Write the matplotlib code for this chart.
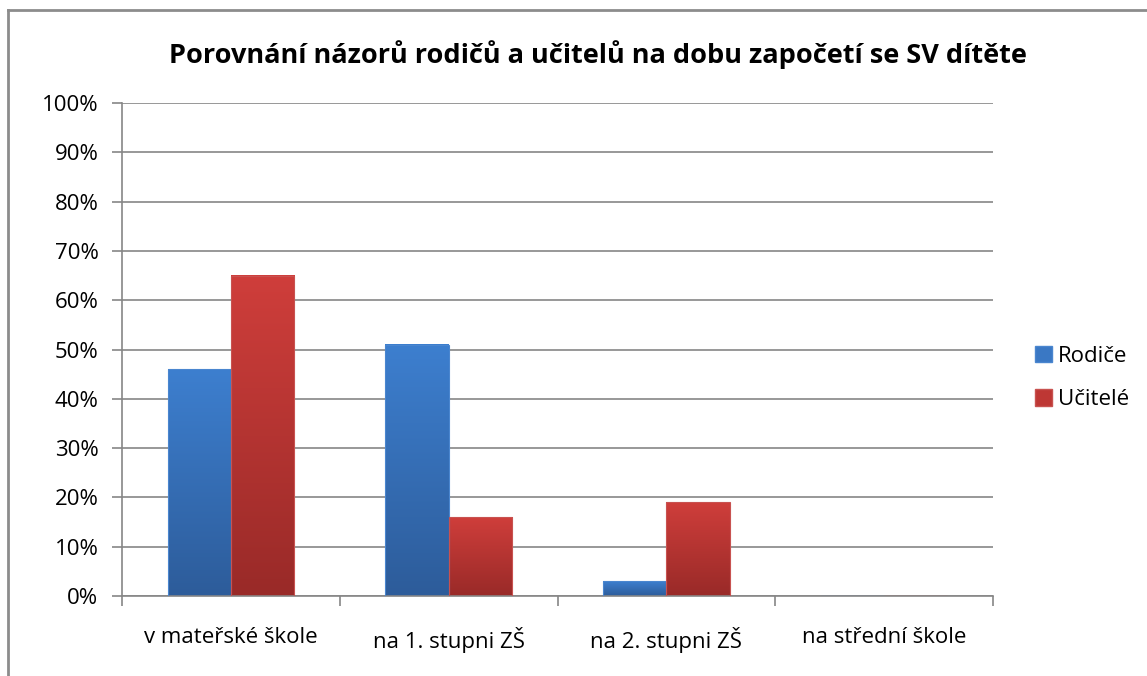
import numpy as np
import matplotlib
matplotlib.use('Agg')
import matplotlib.pyplot as plt
from matplotlib.colors import LinearSegmentedColormap
from matplotlib.lines import Line2D
from matplotlib.patches import Patch

categories = ['v mateřské škole', 'na 1. stupni ZŠ', 'na 2. stupni ZŠ', 'na střední škole']
rodice = [46, 51, 3, 0]
ucitele = [65, 16, 19, 0]
series_names = ['Rodiče', 'Učitelé']
title = 'Porovnání názorů rodičů a učitelů na dobu započetí se SV dítěte'

plt.rcParams['font.family'] = ['Open Sans', 'DejaVu Sans']

fig = plt.figure(figsize=(11.47, 6.76), dpi=100)
ax = fig.add_axes([122/1147, 1 - 596/676, 871/1147, 493/676])

# outer frame (top and left edges only visible)
fig.add_artist(Line2D([8/1147, 1.0], [1-10/676, 1-10/676], transform=fig.transFigure, color='#8c8c8c', lw=2))
fig.add_artist(Line2D([8/1147, 8/1147], [0, 1-10/676], transform=fig.transFigure, color='#8c8c8c', lw=2))

x = np.arange(len(categories))
w = 0.29
blue_cm = LinearSegmentedColormap.from_list('b', ['#2d5c9a', '#3d7fcf'])
red_cm = LinearSegmentedColormap.from_list('r', ['#992a28', '#cf3e3b'])
grad = np.linspace(0, 1, 256).reshape(-1, 1)

for vals, off, cm, edge in [(rodice, -w/2, blue_cm, '#4a86cf'), (ucitele, w/2, red_cm, '#c85250')]:
    bars = ax.bar(x + off, vals, width=w, color='none', edgecolor=edge, lw=0.8, zorder=3)
    for b in bars:
        h = b.get_height()
        if h <= 0:
            continue
        x0 = b.get_x()
        ax.imshow(grad, cmap=cm, origin='lower', aspect='auto',
                  extent=(x0, x0 + b.get_width(), 0, h), zorder=2)

ax.set_xlim(-0.5, 3.5)
ax.set_ylim(0, 100)
ax.set_yticks(np.arange(0, 101, 10))
ax.set_yticklabels(['%d%%' % v for v in range(0, 101, 10)], fontsize=16)
ax.yaxis.grid(True, color='#868686', lw=1.2)
ax.set_axisbelow(True)
ax.set_xticks(np.arange(-0.5, 4, 1))
ax.set_xticklabels([])
ax.set_xticks(x, minor=True)
ax.set_xticklabels(categories, minor=True, fontsize=16)
ax.tick_params(axis='x', which='minor', length=0, pad=22)
ax.tick_params(axis='x', which='major', length=7, color='#868686', width=1.2)
ax.tick_params(axis='y', length=7, color='#868686', width=1.2, pad=10)
for s in ['top', 'right']:
    ax.spines[s].set_visible(False)
ax.spines['left'].set_color('#868686')
ax.spines['bottom'].set_color('#868686')
ax.spines['left'].set_linewidth(1.2)
ax.spines['bottom'].set_linewidth(1.2)

fig.text(598/1147, 1 - 55/676, title, ha='center', va='center', fontsize=19.5, fontweight='bold')

handles = [Patch(facecolor='#3a78c4', edgecolor='#4a86cf'), Patch(facecolor='#be3734', edgecolor='#c85250')]
fig.legend(handles, series_names, loc='center left', bbox_to_anchor=(1035/1147, 1 - 378/676),
           frameon=False, fontsize=16, handlelength=0.75, handleheight=0.75,
           handletextpad=0.3, labelspacing=1.0, borderpad=0, borderaxespad=0)

fig.savefig('out.png', dpi=100)
